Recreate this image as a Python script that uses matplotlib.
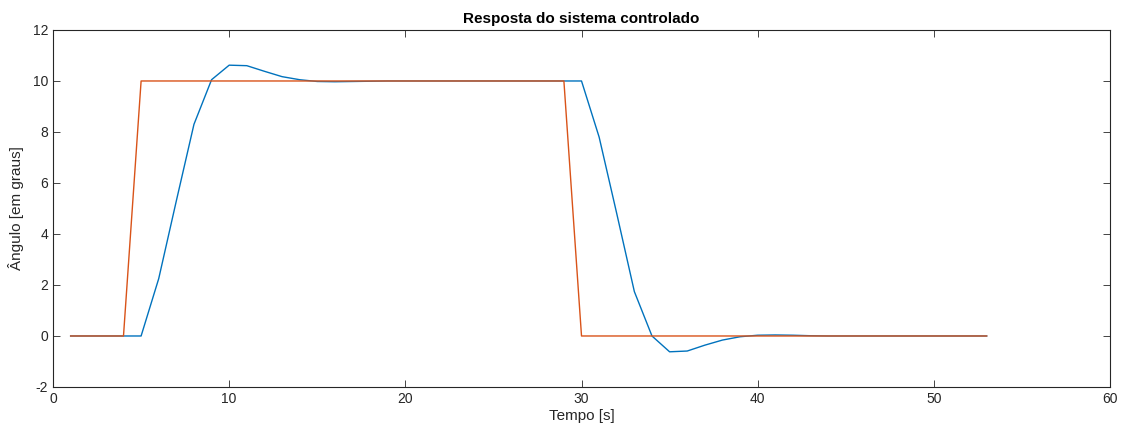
import matplotlib
matplotlib.use("Agg")
import matplotlib.pyplot as plt

# tempo [s]
t = list(range(1, 54))

# saida do sistema (azul)
resposta = [0, 0, 0, 0, 0, 2.25, 5.3, 8.3, 10.05, 10.62,
            10.6, 10.38, 10.17, 10.05, 9.98, 9.97, 9.98, 9.99, 10.0, 10.0,
            10.0, 10.0, 10.0, 10.0, 10.0, 10.0, 10.0, 10.0, 10.0, 10.0,
            7.8, 4.8, 1.74, 0.0, -0.62, -0.59, -0.36, -0.16, -0.03, 0.03,
            0.04, 0.03, 0.01, 0.0, 0.0, 0.0, 0.0, 0.0, 0.0, 0.0,
            0.0, 0.0, 0.0]

# referencia (vermelho)
referencia = [0, 0, 0, 0] + [10] * 25 + [0] * 24

plt.rcParams.update({
    "font.family": ["Liberation Sans", "DejaVu Sans"],
    "font.size": 10,
    "axes.unicode_minus": False,
})

fig = plt.figure(figsize=(11.33, 4.32), dpi=100)
ax = fig.add_axes([0.0468, 0.1042, 0.9329, 0.8264])

ax.plot(t, resposta, color="#0072BD", linewidth=1.0)
ax.plot(t, referencia, color="#D95319", linewidth=1.0)

ax.set_xlim(0, 60)
ax.set_ylim(-2, 12)
ax.set_xticks(range(0, 61, 10))
ax.set_yticks(range(-2, 13, 2))

ax.tick_params(direction="in", length=5, width=0.6, colors="#262626",
               top=True, right=True, labelsize=10)
for side in ax.spines.values():
    side.set_color("#262626")
    side.set_linewidth(0.8)

ax.set_title("Resposta do sistema controlado", fontsize=11, fontweight="bold",
             color="black", pad=5)
ax.set_xlabel("Tempo [s]", fontsize=11, color="#262626", labelpad=2)
ax.set_ylabel("Ângulo [em graus]", fontsize=11, color="#262626", labelpad=6)

fig.savefig("out.png", dpi=100)
